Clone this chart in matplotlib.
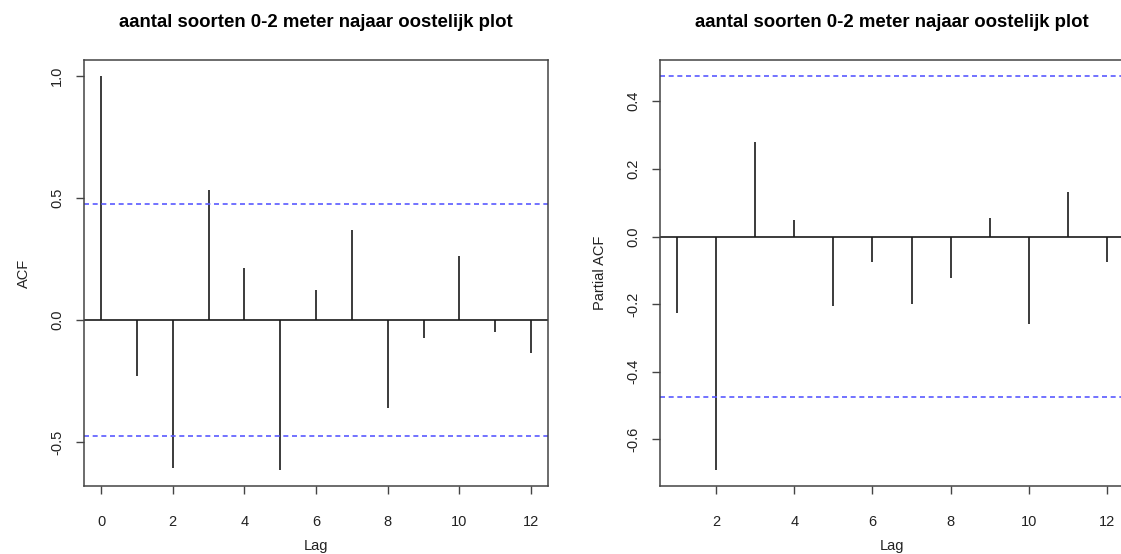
import matplotlib
matplotlib.use("Agg")
import matplotlib.pyplot as plt
import numpy as np

plt.rcParams['font.family'] = ['Liberation Sans', 'DejaVu Sans']

title = "aantal soorten 0-2 meter najaar oostelijk plot"

acf_lags = [0, 1, 2, 3, 4, 5, 6, 7, 8, 9, 10, 11, 12]
acf_vals = [1.0, -0.23, -0.605, 0.531, 0.214, -0.616, 0.123, 0.370, -0.362, -0.073, 0.260, -0.048, -0.137]

pacf_lags = [1, 2, 3, 4, 5, 6, 7, 8, 9, 10, 11, 12]
pacf_vals = [-0.227, -0.691, 0.279, 0.049, -0.204, -0.074, -0.200, -0.123, 0.054, -0.259, 0.131, -0.074]

clim = 0.4754

acf_xticks = [0, 2, 4, 6, 8, 10, 12]
acf_yticks = [-0.5, 0.0, 0.5, 1.0]
acf_ylabels = ["-0.5", "0.0", "0.5", "1.0"]
pacf_xticks = [2, 4, 6, 8, 10, 12]
pacf_yticks = [-0.6, -0.4, -0.2, 0.0, 0.2, 0.4]
pacf_ylabels = ["-0.6", "-0.4", "-0.2", "0.0", "0.2", "0.4"]

W, H = 1121, 554
fig = plt.figure(figsize=(W / 100, H / 100), dpi=100)

def px_axes(x0, x1, y0, y1):
    return fig.add_axes([x0 / W, 1 - y1 / H, (x1 - x0) / W, (y1 - y0) / H])

ax1 = px_axes(83.8, 548.2, 60, 486)
ax2 = px_axes(659.8, 1124.2, 60, 486)

def style(ax, lags, vals, xticks, yticks, ylabels, ylabel):
    lo = min(min(vals), -clim)
    hi = max(max(vals), clim)
    r = hi - lo
    ax.set_ylim(lo - 0.04 * r, hi + 0.04 * r)
    xr = max(lags) - min(lags)
    ax.set_xlim(min(lags) - 0.04 * xr, max(lags) + 0.04 * xr)
    ax.vlines(lags, 0, vals, color='#1a1a1a', lw=1.2)
    ax.axhline(0, color='#1a1a1a', lw=1.2)
    for c in (clim, -clim):
        ax.axhline(c, color='#5a5aff', lw=1.2, ls=(0, (3, 2.2)))
    for s in ax.spines.values():
        s.set_color('#444444')
        s.set_linewidth(1.1)
    ax.set_xticks(xticks)
    ax.set_xticklabels([str(t) for t in xticks])
    ax.set_yticks(yticks)
    ax.set_yticklabels(ylabels, rotation=90, va='center')
    ax.tick_params(length=6, width=1, color='#444444', labelsize=10.5, labelcolor='#222222')
    ax.tick_params(axis='x', pad=15)
    ax.tick_params(axis='y', pad=8)
    ax.set_xlabel("Lag", fontsize=10.5, color='#222222', labelpad=7)
    ax.set_ylabel(ylabel, fontsize=10.5, color='#222222', labelpad=14)
    ax.set_title(title, fontsize=13.4, fontweight='bold', pad=24)

style(ax1, acf_lags, acf_vals, acf_xticks, acf_yticks, acf_ylabels, "ACF")
style(ax2, pacf_lags, pacf_vals, pacf_xticks, pacf_yticks, pacf_ylabels, "Partial ACF")

fig.savefig("out.png", dpi=100)
